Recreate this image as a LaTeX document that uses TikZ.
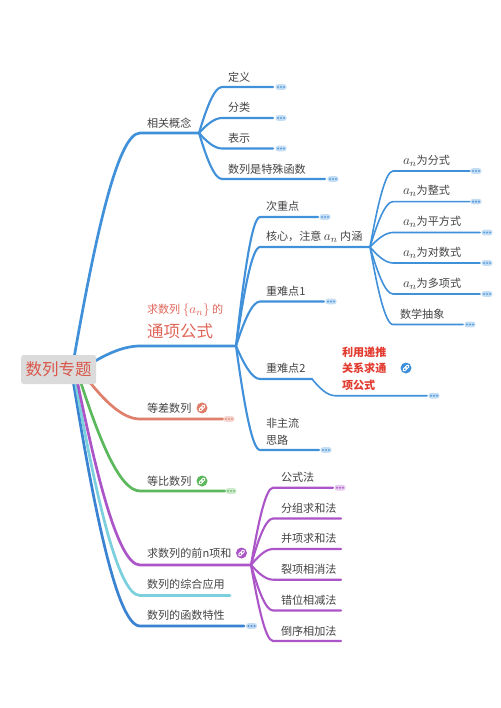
\documentclass[tikz,border=0pt]{standalone}
\usepackage{fontspec}
\usepackage{graphicx}
\setmainfont{Noto Sans CJK SC}
\usetikzlibrary{calc}
\definecolor{mblue}{HTML}{4090DA}
\definecolor{msalmon}{HTML}{DF7F6C}
\definecolor{mgreen}{HTML}{5CB85C}
\definecolor{mpurple}{HTML}{AB55C8}
\definecolor{mcyan}{HTML}{7CCFDD}
\definecolor{mdblue}{HTML}{3A82D2}
\definecolor{txt}{HTML}{444444}
\definecolor{rootred}{HTML}{D9574B}
\definecolor{subred}{HTML}{E0665A}
\definecolor{boldred}{HTML}{E23B30}
\newcommand{\an}{\scalebox{1.2}{$a_n$}}
\tikzset{x=1pt,y=-1pt,
 lab/.style={anchor=west,inner sep=0pt,outer sep=0pt,text=txt,font=\fontsize{11.1}{13}\selectfont},
 limb/.style={line width=2.7pt,line cap=round},
 arm/.style={line width=2.1pt,line cap=round},
 twigline/.style={line width=1.6pt,line cap=round}}
% \curveline{name}{style}{fx}{fy}{jx}{y}{ex}: curve from (fx,fy) to (jx,y), straight on to (ex,y)
\newcommand{\curveline}[7]{%
 \coordinate (#1-a) at (#3,#4);
 \coordinate (#1-b) at (#5,#6);
 \coordinate (#1-e) at (#7,#6);
 \pgfmathsetmacro{\cax}{#3+0.3*(#5-#3)}%
 \pgfmathsetmacro{\cay}{#4+0.5*(#6-#4)}%
 \pgfmathsetmacro{\cbx}{#5-0.35*(#5-#3)}%
 \draw[#2] (#1-a) .. controls (\cax,\cay) and (\cbx,#6) .. (#1-b) -- (#1-e);}
% \morepill{x}{y}{colour}
\newcommand{\morepill}[3]{%
 \fill[#3!30!white,rounded corners=2.5pt] (#1-5.5,#2-2.8) rectangle (#1+5.5,#2+2.8);
 \fill[#3!85!white] (#1-3,#2) circle (1.2pt) (#1,#2) circle (1.2pt) (#1+3,#2) circle (1.2pt);}
% \linkmark{x}{y}{colour}
\newcommand{\linkmark}[3]{%
 \fill[#3] (#1,#2) circle (5.5pt);
 \begin{scope}[shift={(#1,#2)},rotate=45]
 \draw[white,line width=0.9pt,rounded corners=1.2pt] (-3.6,-1.3) rectangle (0.4,1.3);
 \draw[white,line width=0.9pt,rounded corners=1.2pt] (-0.4,-1.3) rectangle (3.6,1.3);
 \end{scope}}
\begin{document}
\begin{tikzpicture}
\useasboundingbox (0,0) rectangle (500,708);
\fill[white] (0,0) rectangle (500,708);
% root limbs
\curveline{m1}{limb,mblue}{74}{358}{140}{133}{199}
\curveline{m2}{limb,mblue}{90}{364}{140}{346}{236}
\curveline{m3}{limb,msalmon}{88}{380}{140}{419}{223}
\curveline{m4}{limb,mgreen}{80}{380}{140}{491}{225}
\curveline{m7}{limb,mdblue}{73}{380}{140}{626}{244}
\curveline{m6}{limb,mcyan}{75}{380}{140}{595.5}{230}
\curveline{m5}{limb,mpurple}{77}{380}{140}{565}{251}
% first group
\curveline{a1}{arm,mblue}{199}{133}{222}{87}{273}
\curveline{a2}{arm,mblue}{199}{133}{222}{118}{273}
\curveline{a3}{arm,mblue}{199}{133}{222}{148.5}{273}
\curveline{a4}{arm,mblue}{199}{133}{222}{179}{325}
% second group
\curveline{b1}{arm,mblue}{236}{346}{260}{217}{318}
\curveline{b2}{arm,mblue}{236}{346}{260}{247}{370}
\curveline{b3}{arm,mblue}{236}{346}{260}{301.5}{324}
\curveline{b4}{arm,mblue}{236}{346}{260}{379}{312}
\curveline{b5}{arm,mblue}{236}{346}{260}{450}{319}
\curveline{b6}{twigline,mblue}{312}{379}{335}{395.7}{427}
% an group
\curveline{c1}{twigline,mblue}{370}{247}{393}{171}{470}
\curveline{c2}{twigline,mblue}{370}{247}{393}{201.6}{470}
\curveline{c3}{twigline,mblue}{370}{247}{393}{232.5}{480}
\curveline{c4}{twigline,mblue}{370}{247}{393}{263}{480}
\curveline{c5}{twigline,mblue}{370}{247}{393}{294}{480}
\curveline{c6}{twigline,mblue}{370}{247}{393}{324.5}{463}
% purple group
\curveline{d1}{arm,mpurple}{251}{565}{273}{487.7}{333}
\curveline{d2}{arm,mpurple}{251}{565}{273}{518.5}{341}
\curveline{d3}{arm,mpurple}{251}{565}{273}{549}{341}
\curveline{d4}{arm,mpurple}{251}{565}{273}{579.7}{341}
\curveline{d5}{arm,mpurple}{251}{565}{273}{610.5}{341}
\curveline{d6}{arm,mpurple}{251}{565}{273}{641}{341}
% more markers
\morepill{281}{87}{mblue}
\morepill{281}{118}{mblue}
\morepill{281}{148.5}{mblue}
\morepill{333}{179}{mblue}
\morepill{325}{217}{mblue}
\morepill{331}{301.5}{mblue}
\morepill{434}{395.7}{mblue}
\morepill{326}{450}{mblue}
\morepill{476}{171}{mblue}
\morepill{476}{201.6}{mblue}
\morepill{487}{232.5}{mblue}
\morepill{487}{263}{mblue}
\morepill{487}{294}{mblue}
\morepill{470}{324.5}{mblue}
\morepill{229}{419}{msalmon}
\morepill{231}{491}{mgreen}
\morepill{340}{487.7}{mpurple}
\morepill{251.5}{626}{mdblue}
% link marks
\linkmark{202}{408}{msalmon}
\linkmark{202}{481}{mgreen}
\linkmark{241.5}{553}{mpurple}
\linkmark{406}{368}{mblue}
% root
\node[fill=black!14,rounded corners=2.5pt,minimum width=75pt,minimum height=29pt,inner sep=0pt,text=rootred,font=\fontsize{16.5}{18}\selectfont] (root) at (58.7,369.5) {数列专题};
% labels
\node[lab] (t1) at (147,123) {相关概念};
\node[lab] (t2) at (228,77) {定义};
\node[lab] (t3) at (228,107.5) {分类};
\node[lab] (t4) at (228,138) {表示};
\node[lab] (t5) at (228,169) {数列是特殊函数};
\node[lab] (t6) at (266,206.5) {次重点};
\node[lab] (t7) at (266,237) {核心，注意 \an\ 内涵};
\node[lab] (t8) at (266,291) {重难点1};
\node[lab] (t9) at (266,368.5) {重难点2};
\node[lab,align=left,font=\fontsize{11.1}{17}\selectfont] (t10) at (266,431.5) {非主流\\思路};
\node[lab,text=boldred,align=left,font=\fontsize{11.1}{16.5}\selectfont\bfseries] (t11) at (342,368.5) {利用递推\\关系求通\\项公式};
\node[lab,text=subred] (t12) at (147,310.5) {求数列 \scalebox{1.2}{$\{a_n\}$} 的};
\node[lab,text=subred,font=\fontsize{16.5}{18}\selectfont] (t13) at (147,331) {通项公式};
\node[lab] (t14) at (147,408.5) {等差数列};
\node[lab] (t15) at (147,481) {等比数列};
\node[lab] (t16) at (147,553.5) {求数列的前n项和};
\node[lab] (t17) at (147,584.5) {数列的综合应用};
\node[lab] (t18) at (147,615.5) {数列的函数特性};
\node[lab] (u1) at (403,160.5) {\an 为分式};
\node[lab] (u2) at (403,191) {\an 为整式};
\node[lab] (u3) at (403,222) {\an 为平方式};
\node[lab] (u4) at (403,252.5) {\an 为对数式};
\node[lab] (u5) at (403,283.5) {\an 为多项式};
\node[lab] (u6) at (400,314) {数学抽象};
\node[lab] (v1) at (281,477) {公式法};
\node[lab] (v2) at (281,508) {分组求和法};
\node[lab] (v3) at (281,538.5) {并项求和法};
\node[lab] (v4) at (281,569) {裂项相消法};
\node[lab] (v5) at (281,600) {错位相减法};
\node[lab] (v6) at (281,631) {倒序相加法};
\end{tikzpicture}
\end{document}
